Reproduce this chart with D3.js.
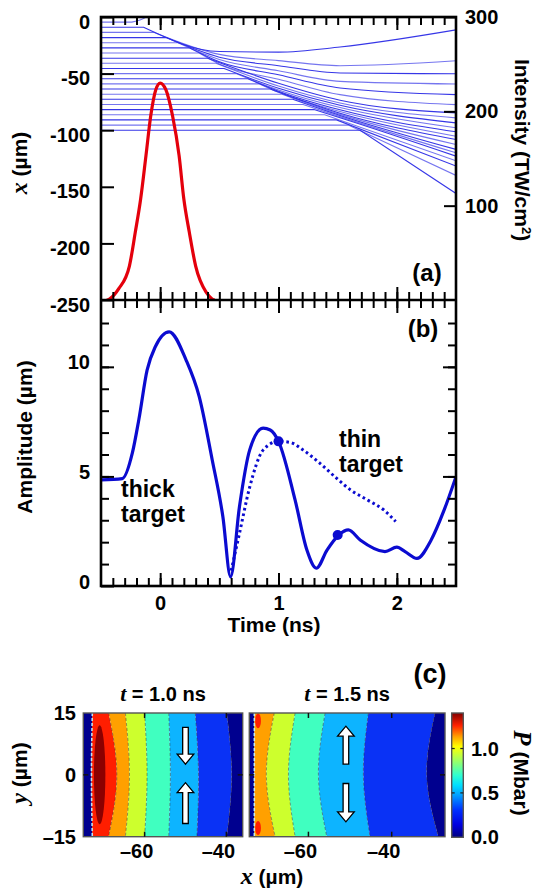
<!DOCTYPE html>
<html>
<head>
<meta charset="utf-8">
<script src="https://cdn.jsdelivr.net/npm/d3@7/dist/d3.min.js"></script>
<style>
body { margin: 0; background: #fff; }
</style>
</head>
<body>
<svg id="fig" width="539" height="892"></svg>
<script>
// ---- panel (a): laser pulse (red) ----
var pulseTime = [-0.45, -0.43, -0.35, -0.26, -0.21, -0.165, -0.12, -0.08, -0.037, 0, 0.048, 0.105, 0.16, 0.2, 0.246, 0.3, 0.39, 0.44, 0.46];
var pulseIntensity = [0, 1, 12, 36, 72, 107, 153, 195, 223, 230, 223, 195, 153, 107, 72, 36, 8, 1, 0];

// ---- panel (a): cell trajectories x(t) ----
var ablatedT = [-0.24, -0.17, -0.1];
var ablatedX = [-4.5, -2.6, 0.8];
var startX = [-9.1, -13.6, -18.2, -22.7, -27.3, -31.8, -36.4, -40.9, -45.5, -50, -54.5, -59.1, -63.6, -68.2, -72.7, -77.3, -81.8, -86.4, -90.9, -95.5, -100];
var bendT = [-0.14, -0.05, 0.05, 0.15, 0.25, 0.33, 0.40, 0.47, 0.54, 0.64, 0.74, 0.84, 0.93, 1.03, 1.12, 1.21, 1.30, 1.39, 1.49, 1.59, 1.69];
var xAt05 = [-30.5, -33, -35.5, -37.5, -39.5, -41.5, null, null, null, null, null, null, null, null, null, null, null, null, null, null, null];
var xAt10 = [-31, -38.5, -43, -47.5, -51, -55, -58.5, -61, -63, -64.5, -65.5, -66.5, null, null, null, null, null, null, null, null, null];
var xAt152 = [-26.5, -43, -49.5, -56.9, -62.7, -68.6, -73.5, -76, -78, -80, -82, -83.5, -85, -86, -87, -88, -89, null, null, null, null];
var endX = [-11.4, -38.7, -50.1, -59.2, -68.6, -77.4, -84.7, -89.1, -93.5, -97.9, -101.4, -105.3, -108.2, -112.6, -117, -120, -122.9, -127, -131.7, -140, -155.9];

// ---- panel (b): amplitude ----
var thickT = [-0.5, -0.32, -0.235, -0.18, -0.11, -0.04, 0.076, 0.22, 0.33, 0.44, 0.53, 0.595, 0.67, 0.756, 0.87, 0.93, 1.0, 1.14, 1.24, 1.32, 1.41, 1.51, 1.59, 1.69, 1.9, 2.0, 2.07, 2.17, 2.29, 2.4, 2.5];
var thickA = [4.84, 4.9, 6.07, 7.6, 9.86, 10.93, 11.6, 10.3, 8.64, 5.75, 3.16, 0.42, 3.62, 6.2, 7.2, 7.12, 6.6, 3.93, 1.64, 0.81, 1.64, 2.33, 2.56, 2.1, 1.57, 1.77, 1.57, 1.26, 2.1, 3.47, 4.99];
var thinT = [0.6, 0.67, 0.756, 0.87, 1.0, 1.1, 1.21, 1.35, 1.49, 1.61, 1.75, 1.89, 1.99];
var thinA = [0.7, 2.4, 4.5, 6.2, 6.6, 6.55, 6.2, 5.6, 4.92, 4.38, 3.93, 3.47, 2.94];
var markT = [1.0, 1.5];
var markA = [6.6, 2.33];

// ---- panel (c): pressure maps, band edges at y = 15, 0, -15 um ----
var mapY = [15, 0, -15];
var leftBounds = [[-72.8, -73.0, -72.8], [-68.8, -66.8, -68.8], [-64.7, -63.7, -64.7], [-60.0, -59.4, -60.0], [-54.1, -53.7, -54.1], [-47.6, -46.8, -47.2], [-39.9, -38.7, -39.9]];
var leftColors = ["#00008f", "#ff1e00", "#ffa000", "#cdff2d", "#40ffc0", "#0db4ff", "#0a32f5", "#00008f"];
var rightBounds = [[-73.0, -73.0, -73.0], [-68.2, -70.1, -68.0], [-63.2, -64.8, -63.2], [-56.0, -57.6, -55.6], [-45.6, -46.8, -45.2], [-29.6, -31.6, -28.8]];
var rightColors = ["#00008f", "#ffa000", "#cdff2d", "#40ffc0", "#0db4ff", "#0a32f5", "#00008f"];
var leftSpots = [{x: -71.0, y: 0, rx: 1.4, ry: 12}];
var rightSpots = [{x: -72.1, y: 13.1, rx: 0.7, ry: 1.8}, {x: -72.1, y: -12.9, rx: 0.7, ry: 1.7}];
var leftArrows = [{x: -50, from: 11.5, to: 2.6}, {x: -50, from: -11.8, to: -1.9}];
var rightArrows = [{x: -51, from: 2.6, to: 11.8}, {x: -51, from: -2.1, to: -11.4}];
var barStops = [0, 0.1, 0.22, 0.34, 0.42, 0.5, 0.62, 0.73, 0.81, 0.9, 1];
var barColors = ["#00007f", "#0000e0", "#0030ff", "#00a0ff", "#00e0ff", "#30ffd0", "#a0ff60", "#ffff00", "#ffa000", "#ff2000", "#800000"];
var barTicks = [0, 0.5, 1.0];

var FONT = "'Liberation Sans', Arial, Helvetica, sans-serif";
var SERIF = "'Liberation Serif', 'Times New Roman', serif";
var svg = d3.select("#fig");

var tScale = d3.scaleLinear().domain([-0.5, 2.5]).range([101, 456]);
var xScale = d3.scaleLinear().domain([0, -250]).range([17, 300]);
var iScale = d3.scaleLinear().domain([0, 300]).range([300, 17]);
var aScale = d3.scaleLinear().domain([0, 13.05]).range([586, 300]);

var defs = svg.append("defs");
defs.append("clipPath").attr("id", "clipA").append("rect")
    .attr("x", 101).attr("y", 17).attr("width", 355).attr("height", 283);
defs.append("clipPath").attr("id", "clipB").append("rect")
    .attr("x", 101).attr("y", 300).attr("width", 355).attr("height", 286);

// ---------- panel (a) ----------
var gA = svg.append("g").attr("clip-path", "url(#clipA)");

// after the bend each trajectory is a smooth curve; before it, a flat line
var trajectories = startX.map(function(x0, i) {
    var pts = [[bendT[i], x0]];
    [[0.5, xAt05], [1.0, xAt10], [1.52, xAt152]].forEach(function(s) {
        if (s[1][i] != null) pts.push([s[0], s[1][i]]);
    });
    pts.push([2.5, endX[i]]);
    return pts;
});
trajectories.unshift(ablatedT.map(function(t, k) { return [t, ablatedX[k]]; }));

var bentLine = d3.line()
    .curve(d3.curveMonotoneX)
    .x(function(d) { return tScale(d[0]); })
    .y(function(d) { return xScale(d[1]); });
var trajPath = function(pts) {
    var head = "M" + tScale(-0.5) + "," + xScale(pts[0][1]);
    return head + "L" + bentLine(pts).slice(1);
};

gA.selectAll(".traj")
    .data(trajectories)
    .enter()
    .append("path")
    .attr("class", "traj")
    .attr("d", trajPath)
    .attr("fill", "none")
    .attr("stroke", "#2b2be6")
    .attr("stroke-width", 1.1)
    .attr("stroke-opacity", function(d, i) { return i % 2 ? 0.95 : 0.65; });

var pulseLine = d3.line()
    .curve(d3.curveMonotoneX)
    .x(function(d, i) { return tScale(d); })
    .y(function(d, i) { return iScale(pulseIntensity[i]); });
gA.append("path")
    .attr("d", pulseLine(pulseTime))
    .attr("fill", "none")
    .attr("stroke", "#e4000c")
    .attr("stroke-width", 3.2);

// ---------- panel (b) ----------
var gB = svg.append("g").attr("clip-path", "url(#clipB)");
var ampLine = function(ts, as) {
    return d3.line()
        .curve(d3.curveMonotoneX)
        .x(function(d) { return tScale(d); })
        .y(function(d, i) { return aScale(as[i]); })(ts);
};
gB.append("path")
    .attr("d", ampLine(thinT, thinA))
    .attr("fill", "none")
    .attr("stroke", "#0b0bd0")
    .attr("stroke-width", 3)
    .attr("stroke-dasharray", "2.6,3");
gB.append("path")
    .attr("d", ampLine(thickT, thickA))
    .attr("fill", "none")
    .attr("stroke", "#0b0bd0")
    .attr("stroke-width", 3.2)
    .attr("stroke-linejoin", "round");
gB.selectAll(".mark")
    .data(markT)
    .enter()
    .append("circle")
    .attr("class", "mark")
    .attr("cx", function(d) { return tScale(d); })
    .attr("cy", function(d, i) { return aScale(markA[i]); })
    .attr("r", 5)
    .attr("fill", "#0b0bd0");

// ---------- axes for (a) and (b) ----------
var drawAxis = function(axis, tx, ty) {
    var g = svg.append("g")
        .attr("transform", "translate(" + tx + "," + ty + ")")
        .call(axis);
    g.select(".domain").remove();
    g.selectAll("line").attr("stroke", "#000").attr("stroke-width", 2);
    g.selectAll("text")
        .attr("fill", "#000")
        .attr("font-size", 20)
        .attr("font-weight", "bold")
        .attr("font-family", FONT);
    return g;
};
var plain = function(d) { return String(d); };
var tMinor = d3.range(-4, 25).map(function(i) { return i / 10; });
var tMajor = [0, 1, 2];

drawAxis(d3.axisTop(tScale).tickValues(tMinor).tickSize(-8).tickFormat(""), 0, 17);
drawAxis(d3.axisTop(tScale).tickValues(tMajor).tickSize(-13).tickFormat(""), 0, 17);
drawAxis(d3.axisBottom(tScale).tickValues(tMinor).tickSize(-8).tickFormat(""), 0, 300);
drawAxis(d3.axisBottom(tScale).tickValues(tMajor).tickSize(-13).tickFormat(""), 0, 300);
drawAxis(d3.axisTop(tScale).tickValues(tMinor).tickSize(-8).tickFormat(""), 0, 300);
drawAxis(d3.axisTop(tScale).tickValues(tMajor).tickSize(-13).tickFormat(""), 0, 300);
drawAxis(d3.axisBottom(tScale).tickValues(tMinor).tickSize(-8).tickFormat(""), 0, 586);
drawAxis(d3.axisBottom(tScale).tickValues(tMajor).tickSize(-13).tickPadding(10).tickFormat(plain), 0, 586);

drawAxis(d3.axisLeft(xScale).tickValues([0, -50, -100, -150, -200, -250]).tickSize(-13).tickPadding(11).tickFormat(plain), 101, 0)
    .selectAll("text").attr("dy", "0.55em");
drawAxis(d3.axisRight(iScale).tickValues([100, 200, 300]).tickSize(-12).tickPadding(9).tickFormat(plain), 456, 0);

var aMinor = d3.range(1, 13);
drawAxis(d3.axisLeft(aScale).tickValues(aMinor).tickSize(-8).tickFormat(""), 101, 0);
drawAxis(d3.axisLeft(aScale).tickValues([0, 5, 10]).tickSize(-13).tickPadding(11).tickFormat(plain), 101, 0)
    .selectAll("text").attr("dy", "0.1em");
drawAxis(d3.axisRight(aScale).tickValues(aMinor).tickSize(-8).tickFormat(""), 456, 0);
drawAxis(d3.axisRight(aScale).tickValues([5, 10]).tickSize(-13).tickFormat(""), 456, 0);

// frames
svg.append("rect").attr("x", 101).attr("y", 17).attr("width", 355).attr("height", 569)
    .attr("fill", "none").attr("stroke", "#000").attr("stroke-width", 2.6);
svg.append("line").attr("x1", 101).attr("x2", 456).attr("y1", 300).attr("y2", 300)
    .attr("stroke", "#000").attr("stroke-width", 2.6);

var label = function(x, y, txt, size, rot) {
    var t = svg.append("text")
        .attr("x", x).attr("y", y)
        .attr("font-family", FONT).attr("font-weight", "bold")
        .attr("font-size", size)
        .attr("text-anchor", "middle")
        .text(txt);
    if (rot) t.attr("transform", "rotate(" + rot + "," + x + "," + y + ")");
    return t;
};

// axis titles
var xt = label(27, 163, "", 21, -90);
xt.append("tspan").attr("font-family", SERIF).attr("font-style", "italic").attr("font-size", 24).text("x");
xt.append("tspan").text(" (\u00b5m)");
var it = label(515, 150, "", 21, 90);
it.append("tspan").text("Intensity (TW/cm");
it.append("tspan").attr("font-size", 13).attr("dy", -7).text("2");
it.append("tspan").attr("dy", 7).text(")");
label(32, 437, "Amplitude (\u00b5m)", 21, -90);
label(274, 632, "Time (ns)", 21);
label(427, 281, "(a)", 24);
label(423, 337, "(b)", 24);

var note = function(x, y, lines) {
    var t = svg.append("text").attr("font-family", FONT).attr("font-weight", "bold").attr("font-size", 23);
    lines.forEach(function(s, i) {
        t.append("tspan").attr("x", x).attr("y", y + i * 25).text(s);
    });
};
note(121, 497, ["thick", "target"]);
note(339, 447, ["thin", "target"]);

// ---------- panel (c) ----------
var yMap = d3.scaleLinear().domain([15, -15]).range([713, 836.7]);
var maps = [
    {id: "m1", label: "1.0", domain: [-75, -36], range: [83.3, 242.7], bounds: leftBounds, colors: leftColors, spots: leftSpots, spotColor: "#8c0000", arrows: leftArrows},
    {id: "m2", label: "1.5", domain: [-74.2, -27.2], range: [249.3, 445], bounds: rightBounds, colors: rightColors, spots: rightSpots, spotColor: "#ff1e00", arrows: rightArrows}
];

var arrowPath = function(x, y0, y1) {
    var dir = y1 > y0 ? 1 : -1;
    var hl = 10, sw = 2.8, hw = 8.3;
    var yb = y1 - dir * hl;
    return "M" + (x - sw) + "," + y0 + "L" + (x - sw) + "," + yb + "L" + (x - hw) + "," + yb +
        "L" + x + "," + y1 + "L" + (x + hw) + "," + yb + "L" + (x + sw) + "," + yb +
        "L" + (x + sw) + "," + y0 + "Z";
};

maps.forEach(function(m) {
    var xm = d3.scaleLinear().domain(m.domain).range(m.range);
    var w = m.range[1] - m.range[0];
    defs.append("clipPath").attr("id", "clip" + m.id).append("rect")
        .attr("x", m.range[0]).attr("y", 713).attr("width", w).attr("height", 123.7);
    var g = svg.append("g").attr("clip-path", "url(#clip" + m.id + ")");
    var band = d3.area()
        .curve(d3.curveNatural)
        .y(function(d) { return yMap(d.y); })
        .x0(function(d) { return xm(d.a); })
        .x1(function(d) { return xm(d.b); });
    m.colors.forEach(function(c, j) {
        var pts = mapY.map(function(y, k) {
            return {y: y,
                    a: j == 0 ? m.domain[0] - 2 : m.bounds[j - 1][k],
                    b: j == m.bounds.length ? m.domain[1] + 2 : m.bounds[j][k]};
        });
        g.append("path").attr("d", band(pts)).attr("fill", c);
    });
    g.selectAll(".spot")
        .data(m.spots)
        .enter()
        .append("ellipse")
        .attr("cx", function(d) { return xm(d.x); })
        .attr("cy", function(d) { return yMap(d.y); })
        .attr("rx", function(d) { return d.rx * w / (m.domain[1] - m.domain[0]); })
        .attr("ry", function(d) { return d.ry * 123.7 / 30; })
        .attr("fill", m.spotColor);
    var edge = d3.line()
        .curve(d3.curveNatural)
        .x(function(d, k) { return xm(d); })
        .y(function(d, k) { return yMap(mapY[k]); });
    m.bounds.forEach(function(b, j) {
        g.append("path").attr("d", edge(b))
            .attr("fill", "none")
            .attr("stroke", j == 0 ? "#bff4ff" : "#333")
            .attr("stroke-opacity", j == 0 ? 0.9 : 0.55)
            .attr("stroke-width", j == 0 ? 1.6 : 0.9)
            .attr("stroke-dasharray", "3,2");
    });
    g.selectAll(".arrow")
        .data(m.arrows)
        .enter()
        .append("path")
        .attr("d", function(d) { return arrowPath(xm(d.x), yMap(d.from), yMap(d.to)); })
        .attr("fill", "#fff")
        .attr("stroke", "#000")
        .attr("stroke-width", 1.3);

    // frame and small ticks
    svg.append("rect").attr("x", m.range[0]).attr("y", 713).attr("width", w).attr("height", 123.7)
        .attr("fill", "none").attr("stroke", "#555").attr("stroke-width", 1.4);
    [-60, -40].forEach(function(v) {
        svg.append("line").attr("x1", xm(v)).attr("x2", xm(v)).attr("y1", 713).attr("y2", 718)
            .attr("stroke", "#111").attr("stroke-width", 1.5);
        svg.append("line").attr("x1", xm(v)).attr("x2", xm(v)).attr("y1", 836.7).attr("y2", 831.7)
            .attr("stroke", "#111").attr("stroke-width", 1.5);
        label(xm(v) - 8, 858, "\u2013" + (-v), 20);
    });
    svg.append("line").attr("x1", m.range[0]).attr("x2", m.range[0] + 5).attr("y1", yMap(0)).attr("y2", yMap(0))
        .attr("stroke", "#111").attr("stroke-width", 1.5);
    svg.append("line").attr("x1", m.range[1]).attr("x2", m.range[1] - 5).attr("y1", yMap(0)).attr("y2", yMap(0))
        .attr("stroke", "#111").attr("stroke-width", 1.5);

    var tt = label((m.range[0] + m.range[1]) / 2, 701, "", 20);
    tt.append("tspan").attr("font-family", SERIF).attr("font-style", "italic").attr("font-size", 22).text("t");
    tt.append("tspan").text(" = " + m.label + " ns");
});

// y tick labels of panel (c)
[15, 0, -15].forEach(function(v) {
    svg.append("text")
        .attr("x", 76).attr("y", yMap(v)).attr("dy", "0.35em")
        .attr("text-anchor", "end")
        .attr("font-family", FONT).attr("font-weight", "bold").attr("font-size", 20)
        .text(v < 0 ? "\u2013" + (-v) : String(v));
});
var yl = label(27, 773, "", 21, -90);
yl.append("tspan").attr("font-family", SERIF).attr("font-style", "italic").attr("font-size", 24).text("y");
yl.append("tspan").text(" (\u00b5m)");
var xl = label(272, 884, "", 21);
xl.append("tspan").attr("font-family", SERIF).attr("font-style", "italic").attr("font-size", 24).text("x");
xl.append("tspan").text(" (\u00b5m)");
label(430, 683, "(c)", 27);

// colour bar
var barScale = d3.scaleLinear().domain([0, 1.4]).range([837.3, 713]);
var grad = defs.append("linearGradient").attr("id", "jet")
    .attr("x1", 0).attr("y1", 1).attr("x2", 0).attr("y2", 0);
barStops.forEach(function(s, i) {
    grad.append("stop").attr("offset", s).attr("stop-color", barColors[i]);
});
svg.append("rect").attr("x", 451.7).attr("y", 713).attr("width", 11.6).attr("height", 124.3)
    .attr("fill", "url(#jet)").attr("stroke", "#555").attr("stroke-width", 1.4);
barTicks.forEach(function(v) {
    if (v > 0) {
        svg.append("line").attr("x1", 451.7).attr("x2", 454.7).attr("y1", barScale(v)).attr("y2", barScale(v))
            .attr("stroke", "#222").attr("stroke-width", 1.2);
        svg.append("line").attr("x1", 463.3).attr("x2", 460.3).attr("y1", barScale(v)).attr("y2", barScale(v))
            .attr("stroke", "#222").attr("stroke-width", 1.2);
    }
    svg.append("text")
        .attr("x", 471).attr("y", barScale(v)).attr("dy", "0.35em")
        .attr("font-family", FONT).attr("font-weight", "bold").attr("font-size", 20)
        .text(v.toFixed(1));
});
var pl = label(514, 773, "", 21, 90);
pl.append("tspan").attr("font-family", SERIF).attr("font-style", "italic").attr("font-size", 25).text("P");
pl.append("tspan").text(" (Mbar)");
</script>
</body>
</html>
